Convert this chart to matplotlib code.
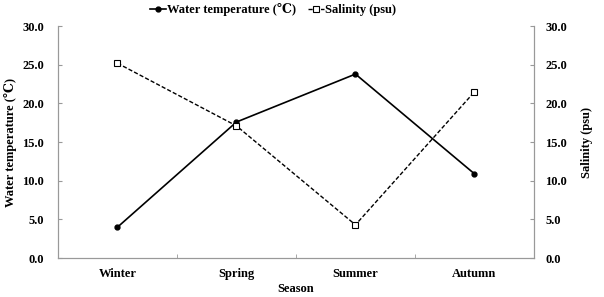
import numpy as np
import matplotlib
matplotlib.use("Agg")
import matplotlib.pyplot as plt

plt.rcParams['font.family'] = ['Liberation Serif', 'DejaVu Serif']
plt.rcParams['font.weight'] = 'bold'

seasons = ["Winter", "Spring", "Summer", "Autumn"]
water_temp = [4.0, 17.6, 23.8, 10.9]
salinity = [25.2, 17.1, 4.3, 21.5]
y_ticks = [0, 5, 10, 15, 20, 25, 30]

fig = plt.figure(figsize=(6.04, 2.97), dpi=100)
ax = fig.add_axes([0.096, 0.131, 0.788, 0.781])
ax2 = ax.twinx()

x = np.arange(len(seasons))
l1, = ax.plot(x, water_temp, color='black', lw=1.2, marker='o', ms=3.5,
              label='Water temperature (℃)')
l2, = ax2.plot(x, salinity, color='black', lw=1.0, ls=(0, (3, 1.5)), marker='s',
               ms=4, mfc='white', mew=0.8, label='Salinity (psu)')

for a in (ax, ax2):
    a.set_ylim(0, 30)
    a.set_yticks(y_ticks)
    a.set_yticklabels([f"{v:.1f}" for v in y_ticks], fontsize=9, fontweight='bold')
    a.set_xlim(-0.5, len(seasons) - 0.5)
    a.spines['top'].set_visible(False)
    for s in ('left', 'right', 'bottom'):
        a.spines[s].set_color('#999999')
ax.tick_params(axis='y', direction='in', length=3, color='#999999', pad=10)
ax2.tick_params(axis='y', direction='in', length=3, color='#999999', pad=8)

ax.set_xticks(x)
ax.set_xticklabels(seasons, fontsize=9, fontweight='bold')
ax.set_xticks(np.arange(0.5, len(seasons) - 1, 1), minor=True)
ax.tick_params(axis='x', which='major', length=0, pad=7)
ax.tick_params(axis='x', which='minor', direction='in', length=3, color='#999999')

ax.set_ylabel('Water temperature (℃)', fontsize=9, fontweight='bold', labelpad=4)
ax2.set_ylabel('Salinity (psu)', fontsize=9, fontweight='bold', labelpad=10)
ax.set_xlabel('Season', fontsize=9, fontweight='bold', labelpad=2)

fig.legend([l1, l2], [l1.get_label(), l2.get_label()], loc='upper center',
           bbox_to_anchor=(0.452, 1.028), ncol=2, frameon=False,
           handlelength=1.3, handletextpad=0.1, columnspacing=0.9,
           prop={'weight': 'bold', 'size': 9})

fig.savefig('out.png', dpi=100)
